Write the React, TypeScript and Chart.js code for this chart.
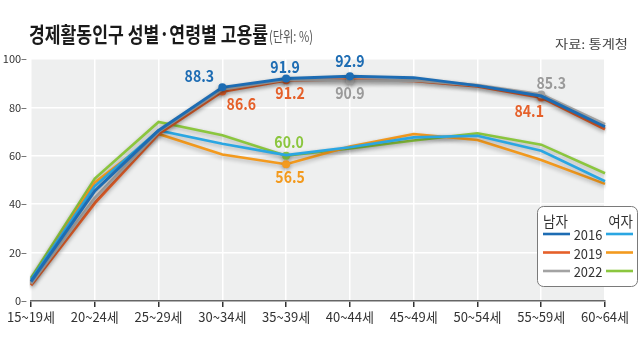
import React, { useEffect, useRef } from "react";
import { Chart, registerables } from "chart.js";

Chart.register(...registerables);

const categories = ["15~19세", "20~24세", "25~29세", "30~34세", "35~39세", "40~44세", "45~49세", "50~54세", "55~59세", "60~64세"];
const yTicks = [0, 20, 40, 60, 80, 100];
const years = ["2016", "2019", "2022"];

const male2016 = [8.0, 45.5, 70.5, 88.3, 91.9, 92.9, 92.3, 89.0, 84.7, 72.0];
const male2019 = [6.5, 40.5, 69.0, 86.6, 91.2, 91.4, 91.0, 88.7, 84.1, 71.0];
const male2022 = [7.2, 42.5, 70.0, 87.5, 91.5, 90.9, 91.2, 89.2, 85.3, 73.0];
const female2016 = [8.8, 47.5, 70.5, 65.0, 60.3, 63.5, 67.6, 68.3, 62.1, 49.5];
const female2019 = [8.0, 49.0, 69.0, 60.5, 56.5, 63.8, 69.0, 66.5, 58.3, 48.4];
const female2022 = [9.5, 50.6, 74.0, 68.5, 60.0, 63.0, 66.3, 69.3, 64.6, 52.8];

const titleText = "경제활동인구 성별·연령별 고용률";
const unitText = "(단위: %)";
const sourceText = "자료: 통계청";
const maleLabel = "남자";
const femaleLabel = "여자";

const C = {
  m2016: "#1d6cb3",
  m2019: "#e5602a",
  m2022: "#a3a3a3",
  f2016: "#2aa6e2",
  f2019: "#f39a1e",
  f2022: "#8bc63e",
};

// indexes of points that are marked and labelled, per dataset (label placement offsets are styling)
const marks: Record<string, { i: number; dx: number; dy: number }[]> = {
  m2016: [{ i: 3, dx: -23, dy: -11 }, { i: 4, dx: -1, dy: -12 }, { i: 5, dx: 0, dy: -15 }],
  m2019: [{ i: 3, dx: 19, dy: 12 }, { i: 4, dx: 4, dy: 13 }, { i: 8, dx: -12, dy: 13 }],
  m2022: [{ i: 5, dx: 0, dy: 12 }, { i: 8, dx: 10, dy: -12 }],
  f2016: [],
  f2019: [{ i: 4, dx: 4, dy: 13 }],
  f2022: [{ i: 4, dx: 3, dy: -14 }],
};

const FONT = "'Noto Sans CJK KR', 'Noto Sans', sans-serif";

function fitText(ctx: CanvasRenderingContext2D, text: string, x: number, y: number, scaleX: number) {
  ctx.save();
  ctx.translate(x, y);
  ctx.scale(scaleX, 1);
  ctx.fillText(text, 0, 0);
  ctx.restore();
}

export default function App() {
  const ref = useRef<HTMLCanvasElement | null>(null);

  useEffect(() => {
    const canvas = ref.current;
    if (!canvas) return;

    const keys = ["m2016", "m2022", "m2019", "f2016", "f2019", "f2022"];
    const dataMap: Record<string, number[]> = {
      m2016: male2016, m2019: male2019, m2022: male2022,
      f2016: female2016, f2019: female2019, f2022: female2022,
    };

    const datasets = keys.map((k) => {
      const idx = marks[k].map((m) => m.i);
      const isMale = k.startsWith("m");
      return {
        label: k,
        data: dataMap[k],
        borderColor: (C as any)[k],
        backgroundColor: (C as any)[k],
        borderWidth: isMale ? 3 : 2.6,
        tension: 0,
        pointRadius: dataMap[k].map((_, i) => (idx.includes(i) ? 4 : 0)),
        pointBorderWidth: 0,
        pointBackgroundColor: (C as any)[k],
      };
    });

    const deco = {
      id: "deco",
      beforeDraw(chart: any) {
        const { ctx, chartArea: a } = chart;
        ctx.save();
        ctx.fillStyle = "#ffffff";
        ctx.fillRect(0, 0, chart.width, chart.height);
        ctx.fillStyle = "#eeefef";
        ctx.fillRect(a.left, a.top, a.right - a.left, a.bottom - a.top);
        ctx.restore();
      },
      beforeDatasetDraw(chart: any) {
        const ctx = chart.ctx;
        ctx.save();
        ctx.shadowColor = "rgba(0,0,0,0.28)";
        ctx.shadowBlur = 4;
        ctx.shadowOffsetY = 2;
      },
      afterDatasetDraw(chart: any) {
        chart.ctx.restore();
      },
      afterDraw(chart: any) {
        const ctx: CanvasRenderingContext2D = chart.ctx;
        ctx.save();
        // title
        ctx.fillStyle = "#1a1a1a";
        ctx.textBaseline = "alphabetic";
        ctx.textAlign = "left";
        ctx.font = `bold 21px ${FONT}`;
        const tw = ctx.measureText(titleText).width;
        fitText(ctx, titleText, 29, 42, 239 / tw);
        ctx.fillStyle = "#555";
        ctx.font = `15px ${FONT}`;
        const uw = ctx.measureText(unitText).width;
        fitText(ctx, unitText, 269, 42, 44 / uw);
        ctx.fillStyle = "#444";
        ctx.font = `12px ${FONT}`;
        const sw = ctx.measureText(sourceText).width;
        fitText(ctx, sourceText, 555, 49, 73 / sw);

        // data labels
        ctx.font = `bold 16px ${FONT}`;
        ctx.textAlign = "center";
        ctx.textBaseline = "middle";
        chart.data.datasets.forEach((ds: any, di: number) => {
          const meta = chart.getDatasetMeta(di);
          const k = ds.label as string;
          marks[k].forEach((m) => {
            const el = meta.data[m.i];
            const col = k === "m2022" ? "#9a9a9a" : (C as any)[k];
            ctx.fillStyle = col;
            const txt = (ds.data[m.i] as number).toFixed(1);
            ctx.save();
            ctx.translate(el.x + m.dx, el.y + m.dy);
            ctx.scale(0.88, 1);
            ctx.fillText(txt, 0, 0);
            ctx.restore();
          });
        });

        // legend
        const bx = 537.5, by = 206.5, bw = 100, bh = 80;
        ctx.beginPath();
        (ctx as any).roundRect(bx, by, bw, bh, 6);
        ctx.fillStyle = "#ffffff";
        ctx.fill();
        ctx.strokeStyle = "#7a7a7a";
        ctx.lineWidth = 1;
        ctx.stroke();
        ctx.fillStyle = "#333";
        ctx.font = `15px ${FONT}`;
        ctx.textBaseline = "middle";
        ctx.textAlign = "left";
        fitText(ctx, maleLabel, 543, 221, 0.9);
        ctx.textAlign = "right";
        fitText(ctx, femaleLabel, 633, 221, 0.9);
        const rowsY = [234, 252.5, 271];
        const mc = [C.m2016, C.m2019, C.m2022];
        const fc = [C.f2016, C.f2019, C.f2022];
        years.forEach((yr, i) => {
          const y = rowsY[i];
          ctx.lineWidth = 2.6;
          ctx.strokeStyle = mc[i];
          ctx.beginPath();
          ctx.moveTo(543, y);
          ctx.lineTo(570, y);
          ctx.stroke();
          ctx.strokeStyle = fc[i];
          ctx.beginPath();
          ctx.moveTo(606, y);
          ctx.lineTo(633, y);
          ctx.stroke();
          ctx.fillStyle = "#333";
          ctx.textAlign = "center";
          ctx.font = `14px ${FONT}`;
          fitText(ctx, yr, 588, y + 1, 0.92);
        });
        ctx.restore();
      },
    };

    const chart = new Chart(canvas, {
      type: "line",
      data: { labels: categories, datasets: datasets as any },
      options: {
        animation: false,
        responsive: false,
        devicePixelRatio: 1,
        layout: { padding: { top: 59, right: 35, left: 0, bottom: 0 } },
        plugins: { legend: { display: false }, tooltip: { enabled: false }, title: { display: false } },
        scales: {
          x: {
            offset: false,
            grid: { color: "#ffffff", lineWidth: 1.5, drawTicks: true, tickLength: 6, tickColor: "#333", tickWidth: 1.5 },
            border: { display: true, color: "#666", width: 1.5 },
            ticks: { color: "#333", font: { family: FONT, size: 13 }, padding: 2, autoSkip: false, maxRotation: 0 },
            afterFit: (s: any) => { s.height = 37; },
          },
          y: {
            min: 0,
            max: 100,
            afterBuildTicks: (s: any) => { s.ticks = yTicks.map((v) => ({ value: v })); },
            grid: { color: "#ffffff", lineWidth: 1.5, drawTicks: false },
            border: { display: false },
            ticks: {
              color: "#333",
              font: { family: FONT, size: 11 },
              padding: 4,
              callback: (v: any) => `${v}–`,
            },
            afterFit: (s: any) => { s.width = 31; },
          },
        },
      },
      plugins: [deco],
    });
    return () => chart.destroy();
  }, []);

  return (
    <div style={{ position: "fixed", left: 0, top: 0, width: 640, height: 338, background: "#fff" }}>
      <canvas ref={ref} width={640} height={338} style={{ display: "block", width: 640, height: 338 }} />
    </div>
  );
}
